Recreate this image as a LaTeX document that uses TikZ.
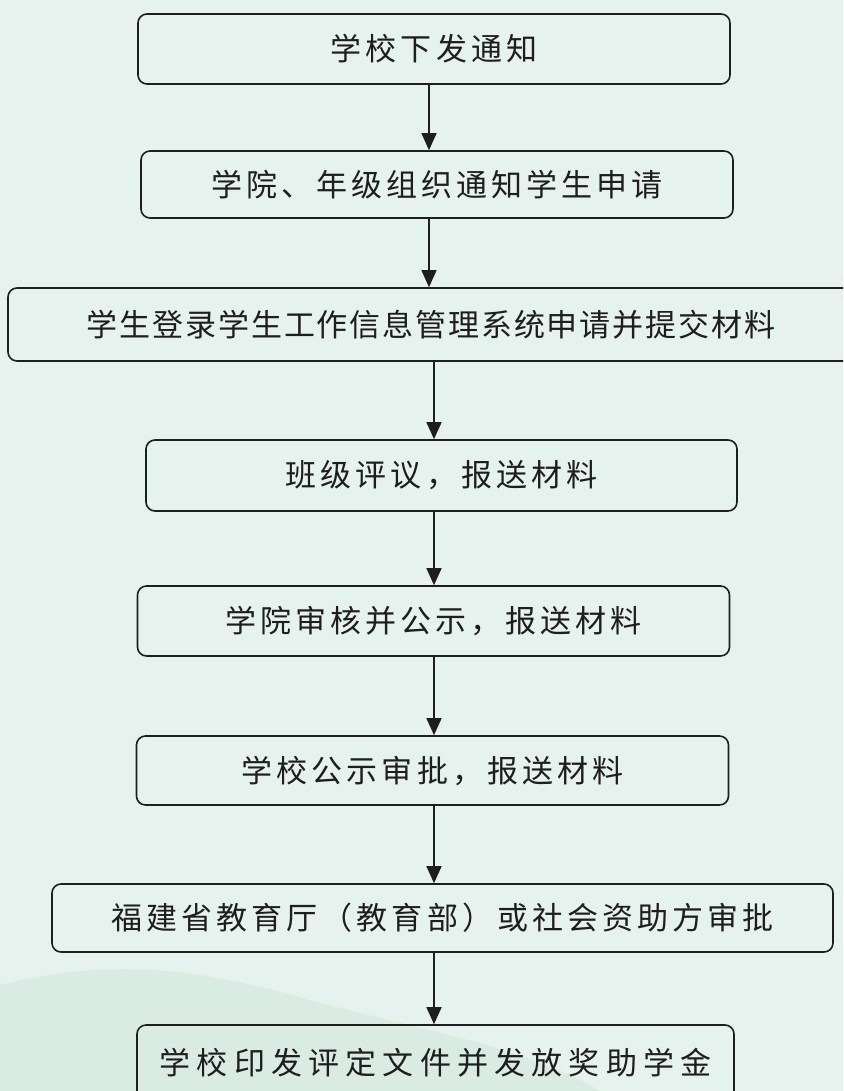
\documentclass[tikz,border=0pt]{standalone}
\usepackage{fontspec}
\usepackage{tikz}
\usetikzlibrary{arrows.meta,positioning}
\newfontfamily\cjk[LetterSpace=13]{Noto Sans CJK SC}
\definecolor{fondo}{RGB}{229,242,237}
\definecolor{colina}{RGB}{218,235,228}
\definecolor{trazo}{RGB}{30,30,30}
\tikzstyle{paso} = [draw=trazo, line width=1.6pt, rounded corners=9pt, minimum width=592pt, minimum height=70pt, inner sep=0pt, text=trazo, font=\fontsize{31}{34}\selectfont\cjk]
\tikzstyle{flecha} = [draw=trazo, line width=1.3pt, -{Triangle[width=15pt,length=17pt]}]

\begin{document}
\begin{tikzpicture}[x=1pt,y=-1pt]
	\clip (0,0) rectangle (843,1091);
	\fill[fondo] (0,0) rectangle (843,1091);
	\fill[colina] (0,985) .. controls (120,955) and (210,972) .. (310,1000) .. controls (420,1030) and (520,1045) .. (600,1091) -- (0,1091) -- cycle;
	\coordinate (ejeA) at (429,0);
	\coordinate (ejeB) at (434,0);
	\node[paso] (b1) at (434,49) {学校下发通知};
	\node[paso, minimum height=67pt] (b2) at (437,184.5) {学院、年级组织通知学生申请};
	\node[paso, minimum width=846pt, minimum height=73pt, font=\fontsize{31}{34}\selectfont\cjk\addfontfeatures{LetterSpace=6}] (b3) at (431,324.5) {学生登录学生工作信息管理系统申请并提交材料};
	\node[paso, minimum width=591pt, minimum height=71pt] (b4) at (441.5,475.5) {班级评议，报送材料};
	\node[paso] (b5) at (433.5,621) {学院审核并公示，报送材料};
	\node[paso, minimum height=69pt] (b6) at (432.5,770.5) {学校公示审批，报送材料};
	\node[paso, minimum width=781pt, minimum height=68pt] (b7) at (442.5,918) {福建省教育厅（教育部）或社会资助方审批};
	\node[paso, minimum width=597pt, minimum height=76pt, font=\fontsize{31}{34}\selectfont\cjk\addfontfeatures{LetterSpace=20}] (b8) at (435.5,1063) {学校印发评定文件并发放奖助学金};
	% flechas
	\draw[flecha] (b1.south -| ejeA) -- (b2.north -| ejeA);
	\draw[flecha] (b2.south -| ejeA) -- (b3.north -| ejeA);
	\draw[flecha] (b3.south -| ejeB) -- (b4.north -| ejeB);
	\draw[flecha] (b4.south -| ejeB) -- (b5.north -| ejeB);
	\draw[flecha] (b5.south -| ejeB) -- (b6.north -| ejeB);
	\draw[flecha] (b6.south -| ejeB) -- (b7.north -| ejeB);
	\draw[flecha] (b7.south -| ejeB) -- (b8.north -| ejeB);
\end{tikzpicture}
\end{document}
